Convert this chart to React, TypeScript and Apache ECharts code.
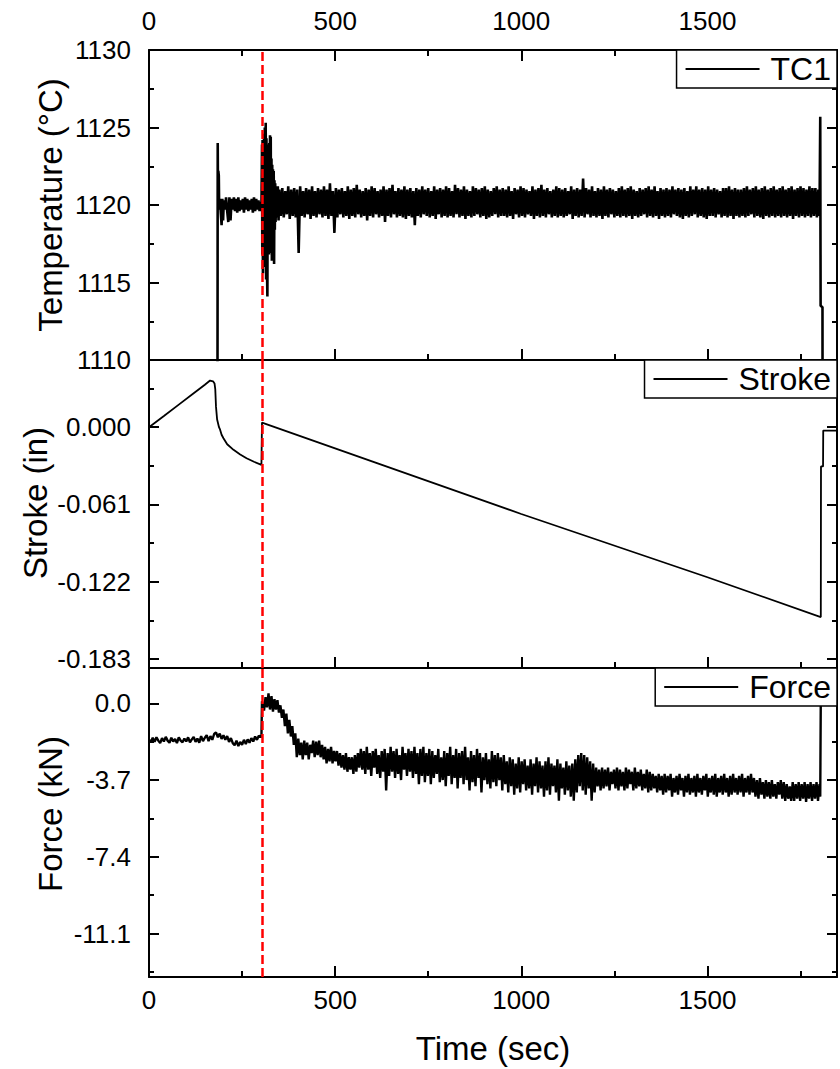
import React, { useEffect, useRef } from 'react';
import * as echarts from 'echarts';

// ---------- axes ----------
const TIME_MAX = 1848;
const RED_LINE_TIME = 303;
const timeMajorTicks = [0, 500, 1000, 1500];
const timeMinorTicks = [250, 750, 1250, 1750];

const tempRange = [1110, 1130];
const tempMajorTicks = [1110, 1115, 1120, 1125, 1130];
const tempMinorTicks = [1112.5, 1117.5, 1122.5, 1127.5];

const strokeRange = [-0.19, 0.053];
const strokeMajorTicks = [0, -0.061, -0.122, -0.183];
const strokeMinorTicks = [0.0305, -0.0305, -0.0915, -0.1525];

const forceRange = [-13.19, 1.7];
const forceMajorTicks = [0, -3.7, -7.4, -11.1];
const forceMinorTicks = [-1.85, -5.55, -9.25, -12.95];

// ---------- TC1 (°C) ----------
const tc1Rise = [
  [182, 1095], [184, 1109.6], [184.6, 1124.0], [185.4, 1120.1], [186.2, 1122.2], [187.5, 1121.9], [188.5, 1119.7],
  [190, 1120.4], [192, 1119.8], [195, 1118.7], [197, 1120.4], [199, 1119.0], [201, 1120.3], [204, 1119.7],
  [207, 1120.5], [210, 1119.6], [213, 1118.9], [216, 1120.5], [219, 1119.0], [222, 1120.4], [225, 1119.7],
  [228, 1120.5], [231, 1119.6], [234, 1120.4], [237, 1119.5], [240, 1120.5], [243, 1119.6], [246, 1120.3],
  [249, 1119.7], [252, 1120.4], [255, 1119.5], [258, 1120.5], [261, 1119.7], [264, 1120.4], [267, 1119.6],
  [270, 1120.3], [273, 1119.7], [276, 1120.4], [279, 1119.5], [282, 1120.5], [285, 1119.6], [288, 1120.4],
  [291, 1119.7], [294, 1120.3], [297, 1119.6], [300, 1120.2], [302, 1119.8],
];
const tc1Transient = [
  [303, 1119.8], [303.6, 1123.9], [304.3, 1116.8], [305, 1124.2], [306, 1115.6], [307, 1123.8], [308, 1116.2],
  [309, 1124.6], [310, 1117.0], [311, 1125.0], [312, 1116.0], [313.5, 1125.3], [314.5, 1115.2], [315.5, 1124.3],
  [316.5, 1116.5], [318, 1114.1], [319, 1123.6], [320, 1117.2], [321, 1123.9], [322, 1116.8], [323, 1124.0],
  [324, 1117.5], [325, 1124.5], [326, 1116.9], [327, 1124.4], [328, 1117.8], [329, 1123.0], [330, 1116.4],
  [331, 1122.6], [332, 1117.9], [333, 1122.3], [334, 1116.6], [335, 1122.2], [336, 1116.2], [337, 1121.6],
  [338, 1118.4], [339, 1121.4], [340, 1118.9], [342, 1121.0], [344, 1119.2], [346, 1121.2], [348, 1119.0],
];
const TC1_BAND_START = 350;
const TC1_BAND_STEP = 4;
const tc1Band = [
  1121.0, 1119.3, 1121.1, 1119.2, 1120.9, 1119.4, 1121.2, 1119.1, 1121.0, 1119.3,
  1121.1, 1119.2, 1121.0, 1116.9, 1121.2, 1119.3, 1120.9, 1119.2, 1121.1, 1119.4,
  1121.0, 1119.1, 1121.2, 1119.3, 1120.9, 1119.2, 1121.1, 1119.4, 1121.0, 1119.2,
  1121.2, 1119.3, 1121.0, 1119.1, 1121.4, 1119.3, 1120.9, 1118.2, 1121.1, 1119.2,
  1121.0, 1119.4, 1121.1, 1119.2, 1120.9, 1119.3, 1121.2, 1119.1, 1121.0, 1119.3,
  1121.1, 1119.2, 1121.3, 1119.4, 1121.0, 1119.2, 1120.9, 1119.3, 1121.1, 1119.0,
  1121.0, 1119.3, 1121.2, 1119.2, 1121.1, 1119.4, 1120.9, 1119.2, 1121.0, 1119.3,
  1121.2, 1118.9, 1121.0, 1119.3, 1121.1, 1119.2, 1121.3, 1119.4, 1120.9, 1119.2,
  1121.1, 1119.3, 1121.0, 1119.2, 1121.2, 1119.1, 1121.0, 1119.3, 1121.1, 1119.2,
  1120.9, 1118.7, 1121.1, 1119.3, 1121.0, 1119.2, 1121.2, 1119.4, 1121.0, 1119.3,
  1121.1, 1119.2, 1120.9, 1119.3, 1121.2, 1119.1, 1121.0, 1119.4, 1121.1, 1119.2,
  1121.0, 1119.3, 1121.2, 1119.2, 1121.1, 1119.3, 1120.9, 1119.2, 1121.3, 1119.4,
  1121.1, 1119.2, 1121.0, 1119.3, 1121.2, 1119.1, 1121.0, 1119.3, 1120.9, 1119.2,
  1121.2, 1119.3, 1121.1, 1119.4, 1121.0, 1119.2, 1121.1, 1119.3, 1121.2, 1119.1,
  1121.0, 1119.2, 1120.9, 1119.3, 1121.1, 1119.4, 1121.2, 1119.2, 1121.0, 1119.3,
  1121.1, 1119.3, 1121.0, 1119.2, 1121.2, 1119.3, 1120.9, 1119.1, 1121.1, 1119.4,
  1121.0, 1119.2, 1121.2, 1119.3, 1121.1, 1119.2, 1121.0, 1119.4, 1120.9, 1119.3,
  1121.2, 1119.1, 1121.0, 1119.3, 1121.1, 1119.2, 1121.3, 1119.3, 1121.0, 1119.2,
  1121.1, 1119.4, 1120.9, 1119.2, 1121.0, 1119.3, 1121.2, 1119.2, 1121.1, 1119.3,
  1121.0, 1119.2, 1121.1, 1119.3, 1120.9, 1119.4, 1121.2, 1119.1, 1121.0, 1119.3,
  1121.1, 1119.2, 1121.0, 1119.3, 1121.7, 1119.2, 1121.1, 1119.4, 1121.0, 1119.2,
  1121.2, 1119.3, 1120.9, 1119.2, 1121.1, 1119.3, 1121.0, 1119.1, 1121.2, 1119.3,
  1121.0, 1119.2, 1121.1, 1119.4, 1121.0, 1119.2, 1120.9, 1119.3, 1121.1, 1119.2,
  1121.2, 1119.3, 1121.0, 1119.2, 1121.1, 1119.3, 1121.2, 1119.1, 1121.0, 1119.3,
  1120.9, 1119.2, 1121.1, 1119.3, 1121.0, 1119.4, 1121.1, 1119.2, 1121.2, 1119.3,
  1121.0, 1119.2, 1121.2, 1119.3, 1120.9, 1119.1, 1121.1, 1119.3, 1121.0, 1119.2,
  1121.1, 1119.3, 1121.0, 1119.2, 1121.2, 1119.4, 1121.0, 1119.3, 1121.1, 1119.2,
  1121.0, 1119.1, 1121.1, 1119.3, 1120.9, 1119.2, 1121.2, 1119.3, 1121.0, 1119.4,
  1121.2, 1119.2, 1121.0, 1119.3, 1121.1, 1119.2, 1121.0, 1119.1, 1121.2, 1119.3,
  1121.0, 1119.3, 1121.1, 1119.2, 1121.0, 1119.4, 1120.9, 1119.2, 1121.1, 1119.3,
  1121.1, 1119.2, 1121.2, 1119.3, 1121.0, 1119.1, 1121.1, 1119.3, 1121.0, 1119.2,
  1121.0, 1119.3, 1121.1, 1119.2, 1121.2, 1119.3, 1121.0, 1119.4, 1121.1, 1119.2,
  1121.2, 1119.3, 1121.0, 1119.2, 1121.1, 1119.1, 1121.2, 1119.3, 1121.0, 1119.2,
  1121.1, 1119.3, 1121.2, 1119.2, 1121.0, 1119.3, 1121.1, 1119.2, 1121.2, 1119.3,
  1121.0, 1119.2, 1121.1, 1119.3, 1121.2, 1119.1, 1121.0, 1119.3, 1121.1, 1119.2,
  1121.2, 1119.3, 1121.1, 1119.2, 1121.0, 1119.3, 1121.2, 1119.2, 1121.1, 1119.3,
];
const tc1End = [
  [1790, 1121.1], [1794, 1119.2], [1798, 1121.0], [1801, 1119.3], [1803, 1125.7], [1804, 1113.5],
  [1809, 1113.4], [1810, 1090],
];

// ---------- Stroke (in) ----------
const strokeData = [
  [0, 0.0], [40, 0.0088], [80, 0.0178], [120, 0.0268], [150, 0.0335], [164, 0.0368], [172, 0.0362],
  [176, 0.0345], [178, 0.03], [180, 0.016], [183, 0.006], [188, 0.0], [191, -0.002], [195, -0.006],
  [200, -0.0087], [210, -0.0135], [227, -0.0179], [245, -0.0215], [262, -0.0245], [282, -0.0273],
  [302, -0.0298], [303.5, 0.0036], [1000, -0.0685], [1500, -0.1184], [1804.5, -0.1498], [1805, -0.031],
  [1810.5, -0.031], [1811, -0.0027], [1848, -0.0027],
];

// ---------- Force (kN) ----------
const FORCE_PRE_START = 0;
const FORCE_PRE_STEP = 5;
const forcePre = [
  -1.75, -1.88, -1.66, -1.86, -1.64, -1.80, -1.92, -1.68, -1.84, -1.62,
  -1.80, -1.90, -1.66, -1.84, -1.72, -1.92, -1.64, -1.80, -1.88, -1.70,
  -1.84, -1.64, -1.88, -1.74, -1.62, -1.86, -1.70, -1.90, -1.58, -1.82,
  -1.66, -1.54, -1.82, -1.58, -1.76, -1.48, -1.40, -1.64, -1.46, -1.72,
  -1.54, -1.76, -1.58, -1.86, -1.68, -1.92, -2.02, -1.80, -2.06, -1.86,
  -2.00, -1.76, -1.96, -1.74, -1.90, -1.68, -1.84, -1.60, -1.76, -1.56,
  -1.62,
];
const forceJump = [[302, -1.62], [303.5, 0.1]];
const FORCE_BAND_START = 305;
const FORCE_BAND_STEP = 4;
const forceBand = [
  0.1, -0.35, 0.3, -0.2, 0.48, -0.3, 0.35, -0.4, 0.2, -0.3,
  0.15, -0.45, -0.1, -0.7, -0.3, -1.1, -0.5, -1.45, -0.8, -1.6,
  -1.1, -2.0, -1.45, -2.6, -1.7, -2.5, -1.9, -2.7, -1.8, -2.5,
  -1.9, -2.7, -2.0, -2.4, -1.8, -2.6, -1.85, -2.5, -1.8, -2.6,
  -2.0, -2.7, -2.1, -2.9, -2.2, -2.8, -2.1, -2.9, -2.3, -2.8,
  -2.3, -3.0, -2.4, -3.1, -2.5, -3.2, -2.4, -3.3, -2.6, -3.2,
  -2.6, -3.4, -2.5, -3.3, -2.4, -3.1, -2.2, -3.2, -2.3, -3.4,
  -2.1, -3.2, -2.4, -3.5, -2.3, -3.1, -2.2, -3.4, -2.5, -3.6,
  -2.3, -3.3, -2.2, -4.2, -2.4, -3.5, -2.1, -3.3, -2.3, -3.6,
  -2.2, -3.4, -2.5, -3.7, -2.1, -3.2, -2.4, -3.5, -2.2, -3.3,
  -2.3, -3.6, -2.1, -3.4, -2.4, -3.9, -2.2, -3.5, -2.1, -3.8,
  -2.4, -3.5, -2.2, -3.9, -2.3, -3.6, -2.5, -3.4, -2.2, -3.8,
  -2.6, -3.7, -2.3, -4.0, -2.4, -3.5, -2.1, -3.9, -2.5, -3.6,
  -2.2, -4.1, -2.4, -3.6, -2.3, -3.9, -2.1, -3.7, -2.6, -4.2,
  -2.3, -3.8, -2.5, -4.0, -2.2, -3.6, -2.4, -4.3, -2.6, -3.7,
  -2.4, -3.9, -2.7, -4.1, -2.3, -3.8, -2.5, -4.0, -2.4, -3.7,
  -2.6, -4.2, -2.5, -3.9, -2.8, -4.3, -2.6, -4.0, -2.7, -4.4,
  -2.9, -4.1, -2.6, -4.3, -2.8, -3.9, -2.7, -4.2, -3.0, -4.1,
  -2.7, -4.4, -2.9, -4.0, -2.6, -4.3, -2.8, -4.1, -3.0, -4.5,
  -2.8, -4.2, -2.6, -4.4, -2.9, -4.0, -3.0, -4.3, -2.7, -4.7,
  -2.9, -4.1, -3.1, -4.4, -2.8, -4.2, -3.0, -4.5, -2.9, -4.7,
  -2.7, -4.3, -2.5, -4.0, -2.4, -4.2, -2.5, -4.4, -2.6, -4.1,
  -2.8, -4.7, -2.9, -4.3, -3.1, -4.0, -3.2, -4.2, -3.1, -4.1,
  -3.2, -4.0, -3.1, -4.2, -3.3, -3.9, -3.2, -4.1, -3.1, -4.2,
  -3.2, -4.0, -3.3, -4.2, -3.1, -4.1, -3.2, -3.9, -3.3, -4.2,
  -3.1, -4.1, -3.3, -4.0, -3.2, -4.2, -3.4, -4.1, -3.2, -4.3,
  -3.3, -4.2, -3.4, -4.1, -3.5, -4.3, -3.4, -4.2, -3.5, -4.4,
  -3.4, -4.3, -3.5, -4.2, -3.4, -4.5, -3.6, -4.3, -3.5, -4.4,
  -3.4, -4.2, -3.6, -4.5, -3.5, -4.3, -3.4, -4.4, -3.6, -4.3,
  -3.5, -4.5, -3.4, -4.3, -3.6, -4.4, -3.5, -4.2, -3.4, -4.5,
  -3.6, -4.3, -3.5, -4.4, -3.4, -4.5, -3.6, -4.3, -3.5, -4.4,
  -3.4, -4.3, -3.6, -4.5, -3.5, -4.4, -3.4, -4.3, -3.6, -4.4,
  -3.5, -4.3, -3.4, -4.5, -3.6, -4.3, -3.5, -4.4, -3.4, -4.3,
  -3.6, -4.5, -3.7, -4.6, -3.6, -4.4, -3.8, -4.6, -3.7, -4.5,
  -3.8, -4.6, -3.7, -4.5, -3.9, -4.6, -3.8, -4.4, -3.7, -4.6,
  -3.8, -4.7, -3.9, -4.6, -4.0, -4.7, -3.8, -4.7, -3.9, -4.6,
  -3.8, -4.7, -3.9, -4.6, -3.8, -4.75, -3.9, -4.6, -3.8, -4.7,
];
const forceEnd = [
  [1785, -3.9], [1789, -4.6], [1793, -3.8], [1797, -4.7], [1801, -3.9], [1803, -4.5], [1804.5, 0.4], [1848, 0.4],
];

// ---------- assemble ----------
const sampled = (start: number, step: number, vals: number[]) => vals.map((v, i) => [start + i * step, v]);
const tc1Data = [...tc1Rise, ...tc1Transient, ...sampled(TC1_BAND_START, TC1_BAND_STEP, tc1Band), ...tc1End];
const forceData = [
  ...sampled(FORCE_PRE_START, FORCE_PRE_STEP, forcePre),
  ...forceJump,
  ...sampled(FORCE_BAND_START, FORCE_BAND_STEP, forceBand),
  ...forceEnd,
];

const FONT = "'Liberation Sans', Arial, sans-serif";
const BLACK = '#000';
const TICK_FONT = 26;
const TITLE_FONT = 33;

const grids = [
  { left: 149, top: 50, width: 688, height: 310 },
  { left: 149, top: 360, width: 688, height: 308 },
  { left: 149, top: 668, width: 688, height: 309 },
];

function xAxisSet(gridIndex: number, position: string, labels: boolean, name?: string) {
  const major: any = {
    type: 'value', gridIndex, position, min: 0, max: TIME_MAX,
    axisLine: { show: true, onZero: false, lineStyle: { color: BLACK, width: 2 } },
    axisTick: { show: true, inside: true, length: 11, customValues: timeMajorTicks, lineStyle: { color: BLACK, width: 2 } },
    axisLabel: labels
      ? {
        show: true, customValues: timeMajorTicks, formatter: (v: number) => String(v),
        margin: position === 'top' ? 16 : 10, fontSize: TICK_FONT, color: BLACK, fontFamily: FONT,
      }
      : { show: false },
    splitLine: { show: false },
  };
  if (name) {
    Object.assign(major, {
      name, nameLocation: 'middle', nameGap: 55, nameMoveOverlap: false,
      nameTextStyle: { fontSize: TITLE_FONT, color: BLACK, fontFamily: FONT },
    });
  }
  const minor = {
    type: 'value', gridIndex, position, min: 0, max: TIME_MAX,
    axisLine: { show: false, onZero: false },
    axisTick: { show: true, inside: true, length: 6, customValues: timeMinorTicks, lineStyle: { color: BLACK, width: 2 } },
    axisLabel: { show: false },
    splitLine: { show: false },
  };
  return [major, minor];
}

function yAxisSet(gridIndex: number, range: number[], major: number[], minor: number[], fmt: (v: number) => string,
  name: string, nameGap: number, namePad: number) {
  const base = { type: 'value', gridIndex, min: range[0], max: range[1], splitLine: { show: false } };
  const line = { show: true, onZero: false, lineStyle: { color: BLACK, width: 2 } };
  const tick = (vals: number[], len: number) => ({ show: true, inside: true, length: len, customValues: vals, lineStyle: { color: BLACK, width: 2 } });
  return [
    {
      ...base, position: 'left', axisLine: line, axisTick: tick(major, 10),
      axisLabel: { show: true, customValues: major, formatter: (v: number) => fmt(v), margin: 18, fontSize: TICK_FONT, color: BLACK, fontFamily: FONT, padding: [0, 0, 8, 0] },
      name, nameLocation: 'middle', nameGap, nameRotate: 90, nameMoveOverlap: false,
      nameTextStyle: { fontSize: TITLE_FONT, color: BLACK, fontFamily: FONT, padding: [0, 0, 0, namePad] },
    },
    { ...base, position: 'left', axisLine: { show: false, onZero: false }, axisTick: tick(minor, 5), axisLabel: { show: false } },
    { ...base, position: 'right', axisLine: line, axisTick: tick(major, 10), axisLabel: { show: false } },
    { ...base, position: 'right', axisLine: { show: false, onZero: false }, axisTick: tick(minor, 5), axisLabel: { show: false } },
  ];
}

const redMarkLine = {
  silent: true,
  symbol: ['none', 'none'],
  label: { show: false },
  lineStyle: { color: '#ff0000', width: 2.5, type: [9, 4] },
  data: [{ xAxis: RED_LINE_TIME }],
};

const legendBase = {
  right: 3,
  orient: 'horizontal',
  backgroundColor: '#fff',
  borderColor: BLACK,
  borderWidth: 1.5,
  borderRadius: 0,
  padding: [3, 6, 3, 9],
  icon: 'rect',
  itemWidth: 74,
  itemHeight: 2,
  itemStyle: { color: BLACK, borderWidth: 0 },
  selectedMode: false,
  textStyle: { fontSize: 32, color: BLACK, fontFamily: FONT, padding: [0, 0, 0, 6] },
};

function buildOption() {
  const xAxis = [
    ...xAxisSet(0, 'bottom', false),
    ...xAxisSet(0, 'top', true),
    ...xAxisSet(1, 'bottom', false),
    ...xAxisSet(2, 'bottom', true, 'Time (sec)'),
  ];
  const yAxis = [
    ...yAxisSet(0, tempRange, tempMajorTicks, tempMinorTicks, (v) => String(Math.round(v)), 'Temperature (°C)', 82, 0),
    ...yAxisSet(1, strokeRange, strokeMajorTicks, strokeMinorTicks, (v) => v.toFixed(3), 'Stroke (in)', 97, 22),
    ...yAxisSet(2, forceRange, forceMajorTicks, forceMinorTicks, (v) => v.toFixed(1), 'Force (kN)', 82, 17),
  ];
  const lineSeries = (name: string, data: number[][], xi: number, yi: number, width: number) => ({
    name, type: 'line', data, xAxisIndex: xi, yAxisIndex: yi,
    symbol: 'none', showSymbol: false, clip: true, sampling: undefined,
    lineStyle: { color: BLACK, width }, itemStyle: { color: BLACK },
    emphasis: { disabled: true },
    markLine: redMarkLine,
  });
  return {
    animation: false,
    backgroundColor: '#fff',
    textStyle: { fontFamily: FONT },
    grid: grids.map((g) => ({ ...g, containLabel: false, outerBoundsMode: 'none' })),
    xAxis,
    yAxis,
    legend: [
      { ...legendBase, top: 50, data: ['TC1'] },
      { ...legendBase, top: 360, data: ['Stroke'] },
      { ...legendBase, top: 668, data: ['Force'] },
    ],
    series: [
      lineSeries('TC1', tc1Data, 0, 0, 2.6),
      lineSeries('Stroke', strokeData, 4, 4, 1.8),
      lineSeries('Force', forceData, 6, 8, 2.4),
    ],
  };
}

export default function App() {
  const ref = useRef<HTMLDivElement>(null);
  useEffect(() => {
    document.body.style.margin = '0';
    if (!ref.current) return;
    const chart = echarts.init(ref.current, null, { renderer: 'svg' });
    chart.setOption(buildOption() as any);
    return () => chart.dispose();
  }, []);
  return <div ref={ref} style={{ width: 840, height: 1069 }} />;
}
